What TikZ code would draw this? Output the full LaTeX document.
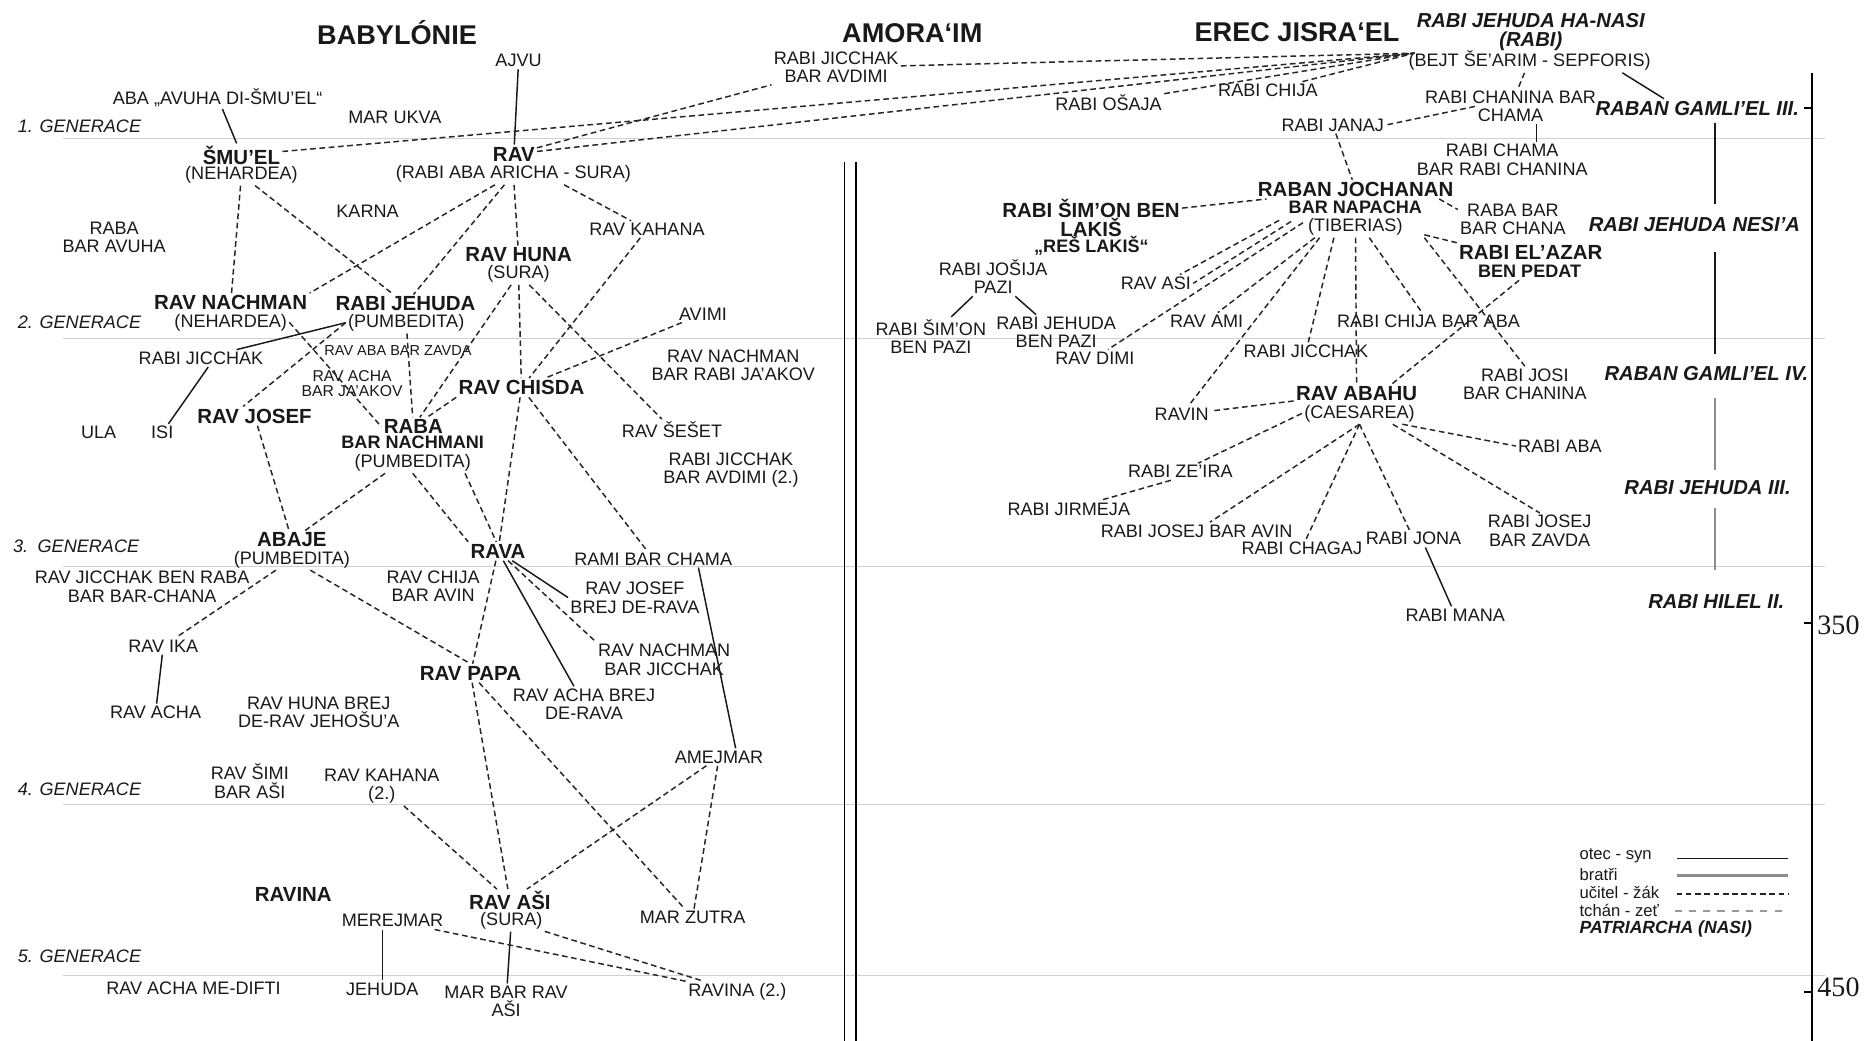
\documentclass[tikz,border=0pt]{standalone}
\usepackage{fontspec}
\setmainfont{Liberation Sans}
\newfontfamily\numserif{Liberation Serif}
\newcommand\fsml{\fontsize{7.6}{7.75}\selectfont}
\newcommand\ftny{\fontsize{6.1}{6.3}\selectfont}
\newcommand\facha{\fontsize{6.6}{6.3}\selectfont}
\newcommand\fbig{\bfseries\fontsize{8.6}{8.2}\selectfont}
\newcommand\fmid{\bfseries\fontsize{7.6}{7.75}\selectfont}
\newcommand\fhd{\bfseries\fontsize{11.4}{12}\selectfont}
\newcommand\fpat{\bfseries\itshape\fontsize{8.5}{8}\selectfont}
\newcommand\fgn{\itshape\fontsize{7.6}{8}\selectfont}
\newcommand\flg{\fontsize{7}{7.5}\selectfont}
\begin{document}
\begin{tikzpicture}[x=0.5pt,y=-0.5pt,
  every node/.style={inner sep=1pt,outer sep=0pt,align=center,text=black!90},
  lbl/.style={font=\fsml},
  big/.style={font=\fbig},
  mid/.style={font=\fmid},
  hd/.style={font=\fhd},
  pat/.style={font=\fpat},
  gn/.style={font=\fgn,anchor=west},
  lg/.style={font=\flg,anchor=west},
  td/.style={draw=black!85,line width=0.62pt,dash pattern=on 2.4pt off 1.5pt},
  fs/.style={draw=black!90,line width=0.62pt},
  br/.style={draw=black!45,line width=1.1pt},
  tz/.style={draw=black!40,line width=0.6pt,dash pattern=on 3pt off 3pt},
  genl/.style={draw=black!18,line width=0.5pt},
]
\fill[white] (0,0) rectangle (1568,875);
\path[use as bounding box] (0,0) rectangle (1568,875);

% generation lines
\foreach \yy in {116.3,284.5,476.5,676.3,820.4} \draw[genl] (53,\yy) -- (1534,\yy);
% divider and time axis
\draw[line width=0.8pt] (710,136.5) -- (710,875);
\draw[line width=0.8pt] (719.3,136.5) -- (719.3,875);
\draw[line width=1.1pt] (1523.5,61) -- (1523.5,875);
\draw[line width=1pt] (1517,91) -- (1523.5,91);
\draw[line width=1pt] (1517,524) -- (1523.5,524);
\draw[line width=1pt] (1517,834) -- (1523.5,834);
\node[font=\numserif\fontsize{11.8}{12}\selectfont,anchor=west] (n350) at (1526,526) {350};
\node[font=\numserif\fontsize{11.8}{12}\selectfont,anchor=west] (n450) at (1526,830) {450};

% headings
\node[hd] (hBab) at (333.8,27) {BABYLÓNIE};
\node[hd] (hAmo) at (767,28) {AMORA‘IM};
\node[hd] (hErec) at (1090.5,27) {EREC JISRA‘EL};

\node[gn] (g1) at (13,106.5) {1. GENERACE};
\node[gn] (g2) at (13,271) {2. GENERACE};
\node[gn] (g3) at (9,459) {3.\hspace{4pt}GENERACE};
\node[gn] (g4) at (13,663.5) {4. GENERACE};
\node[gn] (g5) at (13,804) {5. GENERACE};

% Babylonia
\node[lbl] (ajvu) at (436,51) {AJVU};
\node[lbl] (abaAv) at (183,82) {ABA „AVUHA DI-ŠMU’EL“};
\node[lbl] (marUkva) at (332,98.7) {MAR UKVA};
\node[big] (smuel) at (203,130.3) {ŠMU’EL};
\node[lbl] (smuelS) at (203,147) {(NEHARDEA)};
\node[big] (rav) at (432,129.5) {RAV};
\node[lbl] (ravS) at (431.6,146.3) {(RABI ABA ARICHA - SURA)};
\node[lbl] (karna) at (309,178) {KARNA};
\node[lbl] (rabaAv) at (96,199.6) {RABA\\BAR AVUHA};
\node[lbl] (ravKahana) at (544,192.8) {RAV KAHANA};
\node[big] (ravHuna) at (436,214.4) {RAV HUNA};
\node[lbl] (ravHunaS) at (436,230.4) {(SURA)};
\node[big] (ravNachman) at (194,254.5) {RAV NACHMAN};
\node[lbl] (ravNachmanS) at (194,271) {(NEHARDEA)};
\node[big] (rabiJehuda) at (341,255.6) {RABI JEHUDA};
\node[lbl] (rabiJehudaS) at (341.5,271.3) {(PUMBEDITA)};
\node[lbl] (avimi) at (591,264) {AVIMI};
\node[lbl] (rabiJicchak) at (169,301.3) {RABI JICCHAK};
\node[font=\ftny] (ravAbaBZ) at (334.6,294.3) {RAV ABA BAR ZAVDA};
\node[lbl] (ravNachBRJ) at (616.5,307) {RAV NACHMAN\\BAR RABI JA’AKOV};
\node[font=\facha] (ravAchaBJ) at (296,322.3) {RAV ACHA\\BAR JA’AKOV};
\node[big] (ravChisda) at (438.4,326) {RAV CHISDA};
\node[big] (ravJosef) at (214,349.8) {RAV JOSEF};
\node[lbl] (ula) at (83,363.8) {ULA};
\node[lbl] (isi) at (136.4,363.8) {ISI};
\node[big] (raba) at (347.5,358.8) {RABA};
\node[lbl] (rabaS) at (347,381.3) {{\fmid BAR NACHMANI}\\(PUMBEDITA)};
\node[lbl] (ravSeset) at (565,361) {RAV ŠEŠET};
\node[lbl] (rabiJicAv2) at (614.6,395.2) {RABI JICCHAK\\BAR AVDIMI (2.)};
\node[big] (abaje) at (245.4,454) {ABAJE};
\node[lbl] (abajeS) at (245.4,470.3) {(PUMBEDITA)};
\node[big] (rava) at (418.7,463.5) {RAVA};
\node[lbl] (ramiBC) at (549.2,469.8) {RAMI BAR CHAMA};
\node[lbl] (ravJicBR) at (119.5,493.5) {RAV JICCHAK BEN RABA\\BAR BAR-CHANA};
\node[lbl] (ravChijaBA) at (364.2,492.8) {RAV CHIJA\\BAR AVIN};
\node[lbl] (ravJosefBDR) at (533.8,502.4) {RAV JOSEF\\BREJ DE-RAVA};
\node[lbl] (ravIka) at (137.3,543.2) {RAV IKA};
\node[lbl] (ravNachBJ) at (558.4,554.6) {RAV NACHMAN\\BAR JICCHAK};
\node[big] (ravPapa) at (395.6,566) {RAV PAPA};
\node[lbl] (ravAchaBDR) at (491,592) {RAV ACHA BREJ\\DE-RAVA};
\node[lbl] (ravAcha) at (130.8,599) {RAV ACHA};
\node[lbl] (ravHunaBDRJ) at (268,599) {RAV HUNA BREJ\\DE-RAV JEHOŠU’A};
\node[lbl] (amejmar) at (604.5,636.5) {AMEJMAR};
\node[lbl] (ravSimi) at (210,656.6) {RAV ŠIMI\\BAR AŠI};
\node[lbl] (ravKahana2) at (321,661) {RAV KAHANA\\(2.)};
\node[big] (ravina) at (246.6,751.7) {RAVINA};
\node[big] (ravAsi) at (428.7,757.3) {RAV AŠI};
\node[lbl] (ravAsiS) at (429.9,774.2) {(SURA)};
\node[lbl] (merejmar) at (330,774.2) {MEREJMAR};
\node[lbl] (marZutra) at (582.3,771.4) {MAR ZUTRA};
\node[lbl] (ravAchaMD) at (162.7,830.5) {RAV ACHA ME-DIFTI};
\node[lbl] (jehuda) at (321.4,831.6) {JEHUDA};
\node[lbl] (marBarRavAsi) at (425.5,841.9) {MAR BAR RAV\\AŠI};
\node[lbl] (ravina2) at (620,833.9) {RAVINA (2.)};

% Erec Jisra'el
\node[lbl] (rabiJicAv) at (703,56.7) {RABI JICCHAK\\BAR AVDIMI};
\node[lbl] (rabiOsaja) at (932,86.3) {RABI OŠAJA};
\node[lbl] (rabiChija) at (1066,76) {RABI CHIJA};
\node[pat] (haNasi) at (1287,27) {RABI JEHUDA HA-NASI\\(RABI)};
\node[lbl] (haNasiS) at (1286,51) {(BEJT ŠE’ARIM - SEPFORIS)};
\node[lbl] (rabiChanina) at (1270,89.5) {RABI CHANINA BAR\\CHAMA};
\node[pat] (gamliel3) at (1427,91) {RABAN GAMLI’EL III.};
\node[lbl] (rabiJanaj) at (1120.5,105) {RABI JANAJ};
\node[lbl] (rabiChama) at (1263,134.5) {RABI CHAMA\\BAR RABI CHANINA};
\node[big] (jochanan) at (1139.8,159.2) {RABAN JOCHANAN};
\node[lbl] (jochananS) at (1139.5,183.2) {{\fmid BAR NAPACHA}\\(TIBERIAS)};
\node[big] (simon) at (917.3,183.2) {RABI ŠIM’ON BEN\\LAKIŠ};
\node[mid] (simonS) at (917.6,206.6) {„REŠ LAKIŠ“};
\node[lbl] (rabaBBC) at (1272,184.3) {RABA BAR\\BAR CHANA};
\node[pat] (nesia) at (1424.6,189) {RABI JEHUDA NESI’A};
\node[big] (elazar) at (1287,212) {RABI EL’AZAR};
\node[mid] (elazarS) at (1286,228.4) {BEN PEDAT};
\node[lbl] (josija) at (835,232.7) {RABI JOŠIJA\\PAZI};
\node[lbl] (ravAsiE) at (971.8,238.2) {RAV ASI};
\node[lbl] (ravAmi) at (1014.5,270) {RAV AMI};
\node[lbl] (chijaBA) at (1201,270.5) {RABI CHIJA BAR ABA};
\node[lbl] (simonBP) at (782.6,282.8) {RABI ŠIM’ON\\BEN PAZI};
\node[lbl] (jehudaBP) at (888,279.5) {RABI JEHUDA\\BEN PAZI};
\node[lbl] (ravDimi) at (920.5,301) {RAV DIMI};
\node[lbl] (rabiJicE) at (1098,295.5) {RABI JICCHAK};
\node[lbl] (josiBC) at (1282,323) {RABI JOSI\\BAR CHANINA};
\node[pat] (gamliel4) at (1434.7,314) {RABAN GAMLI’EL IV.};
\node[big] (abahu) at (1140.6,330.7) {RAV ABAHU};
\node[lbl] (abahuS) at (1143,347.6) {(CAESAREA)};
\node[lbl] (ravin) at (993.5,348.5) {RAVIN};
\node[lbl] (rabiAba) at (1311.5,375) {RABI ABA};
\node[lbl] (zeira) at (992.4,396.6) {RABI ZE’IRA};
\node[pat] (jehuda3) at (1435.6,410) {RABI JEHUDA III.};
\node[lbl] (jirmeja) at (898.6,428.2) {RABI JIRMEJA};
\node[lbl] (josejBZ) at (1294.5,446.3) {RABI JOSEJ\\BAR ZAVDA};
\node[lbl] (josejBA) at (1006,446.4) {RABI JOSEJ BAR AVIN};
\node[lbl] (chagaj) at (1094.5,461) {RABI CHAGAJ};
\node[lbl] (jona) at (1188.4,452.9) {RABI JONA};
\node[pat] (hilel) at (1443,506) {RABI HILEL II.};
\node[lbl] (mana) at (1223.5,517) {RABI MANA};

% legend
\node[lg] (lg1) at (1326,719.8) {otec - syn};
\node[lg] (lg2) at (1326,735.2) {bratři};
\node[lg] (lg3) at (1326,750.6) {učitel - žák};
\node[lg] (lg4) at (1326,765.2) {tchán - zeť};
\node[lg,font=\bfseries\itshape\fontsize{7.4}{8}\selectfont] (lg5) at (1326,780.6) {PATRIARCHA (NASI)};
\draw[fs] (1409.5,721.7) -- (1503.4,721.7);
\draw[br] (1409.5,736.3) -- (1503.4,736.3);
\draw[td] (1409.5,751.7) -- (1503.4,751.7);
\draw[tz] (1407.9,766) -- (1501.7,766);

% ---- connectors: Babylonia ----
\draw[fs] (ajvu) -- (rav);
\draw[fs] (abaAv) -- (smuel);
\draw[td] (smuel) -- (haNasi.south west);
\draw[td] (smuelS) -- (ravNachman);
\draw[td] (smuelS) -- (rabiJehuda);
\draw[td] (ravS) -- (ravNachman.north east);
\draw[td] (ravS) -- (rabiJehuda);
\draw[td] (ravS) -- (ravHuna);
\draw[td] (ravS.-12) -- (ravKahana);
\draw[td] (ravHunaS) -- (raba);
\draw[td] (ravHunaS) -- (ravChisda);
\draw[td] (ravHunaS) -- (ravSeset);
\draw[td] (ravKahana) -- (ravChisda);
\draw[td] (avimi) -- (ravChisda);
\draw[td] (rabiJehudaS) -- (raba);
\draw[td] (ravChisda.south west) -- (raba);
\draw[fs] (rabiJicchak) -- (rabiJehudaS.west);
\draw[fs] ([xshift=3pt]rabiJicchak.south) -- (isi);
\draw[td] (rabiJehudaS.west) -- (ravJosef.140);
\draw[td] (ravNachmanS.east) -- (raba.west);
\draw[td] (ravJosef) -- (abaje);
\draw[td] (rabaS) -- (abaje);
\draw[td] (rabaS.south) -- (rava.north west);
\draw[td] ([xshift=22pt]rabaS.south) -- (rava.100);
\draw[td] (ravChisda) -- (rava);
\draw[td] (ravChisda) -- (ramiBC);
\draw[td] (rava) -- (ravPapa);
\draw[td] (abajeS) -- (ravPapa.north);
\draw[td] (abajeS) -- (ravIka);
\draw[fs] (ravIka) -- (ravAcha);
\draw[fs] (rava) -- (ravJosefBDR.west);
\draw[td] (rava) -- (ravNachBJ.north west);
\draw[fs] (rava) -- (ravAchaBDR);
\draw[fs] ([xshift=19pt]ramiBC.south) -- ([xshift=7pt]amejmar.north);
\draw[td] (ravPapa) -- (ravAsi);
\draw[td] (ravPapa) -- (marZutra);
\draw[td] (amejmar) -- (ravAsi);
\draw[td] (amejmar) -- (marZutra);
\draw[td] (ravKahana2) -- (ravAsi);
\draw[fs] (jehuda |- merejmar.south) -- (jehuda);
\draw[fs] (ravAsiS) -- (marBarRavAsi);
\draw[td] (merejmar) -- (ravina2);
\draw[td] (ravAsiS) -- (ravina2);

% ---- connectors: to Erec Jisra'el ----
\draw[td] (rav) -- (haNasi.south west);
\draw[td] (rav) -- (rabiJicAv);
\draw[td] (rabiJicAv) -- (haNasi.south west);
\draw[td] (rabiOsaja) -- (haNasi.south west);
\draw[td] (rabiChija) -- (haNasi.south west);
\draw[td] (haNasiS) -- (rabiChanina);
\draw[td] ([xshift=-15pt]rabiChanina.center) -- (rabiJanaj.east);
\draw[fs] ([xshift=11pt]rabiChanina.south) -- ([xshift=14.5pt]rabiChama.north);
\draw[td] (rabiJanaj) -- (jochanan);
\draw[fs] ([xshift=39pt]haNasiS.south) -- ([xshift=-14pt]gamliel3.north);
\draw[td] (simon) -- (jochanan);
\draw[td] ([xshift=-7pt]jochanan.south east) -- (rabaBBC.170);
\draw[td] (jochananS) -- (elazar.north west);
\draw[td] (jochananS.south east) -- (josiBC.north);
\draw[td] (elazarS) -- (abahu.15);
\draw[td] (jochananS) -- (chijaBA);
\draw[td] (jochananS) -- (abahu);
\draw[td] ([xshift=-9pt]jochananS.south) -- (rabiJicE);
\draw[td] ([xshift=-15pt]jochananS.south) -- (ravin);
\draw[td] ([xshift=-17pt]jochananS.south) -- (ravAmi);
\draw[td] ([xshift=-22pt,yshift=-2pt]jochananS.center) -- (ravDimi);
\draw[td] ([xshift=-32pt,yshift=-1pt]jochananS.center) -- (ravAsiE.20);
\draw[td] ([xshift=-27pt,yshift=-1.5pt]jochananS.center) -- (ravAsiE.east);
\draw[td] (abahu) -- (ravin);
\draw[td] (abahuS.west) -- (zeira);
\draw[td] ([xshift=-4pt]zeira.south) -- (jirmeja);
\draw[td] (abahuS.south) -- (josejBA);
\draw[td] (abahuS.south) -- (chagaj);
\draw[td] (abahuS.south) -- (jona);
\draw[td] ([xshift=14pt]abahuS.south) -- (josejBZ.north);
\draw[td] ([xshift=18pt]abahuS.south) -- (rabiAba.west);
\draw[fs] ([xshift=5pt]jona.south) -- (mana);
\draw[fs] (josija) -- (simonBP);
\draw[fs] (josija) -- (jehudaBP);

% patriarch line
\coordinate (px) at (1442,0);
\draw[fs,line width=1pt,shorten <=2pt,shorten >=4.7pt] (gamliel3.south -| px) -- (nesia.north -| px);
\draw[fs,line width=1pt,shorten <=7.3pt,shorten >=4pt] (nesia.south -| px) -- (gamliel4.north -| px);
\draw[br,shorten <=6.5pt,shorten >=3.4pt] (gamliel4.south -| px) -- (jehuda3.north -| px);
\draw[br,shorten <=4.7pt,shorten >=9.3pt] (jehuda3.south -| px) -- (hilel.north -| px);
\end{tikzpicture}
\end{document}
